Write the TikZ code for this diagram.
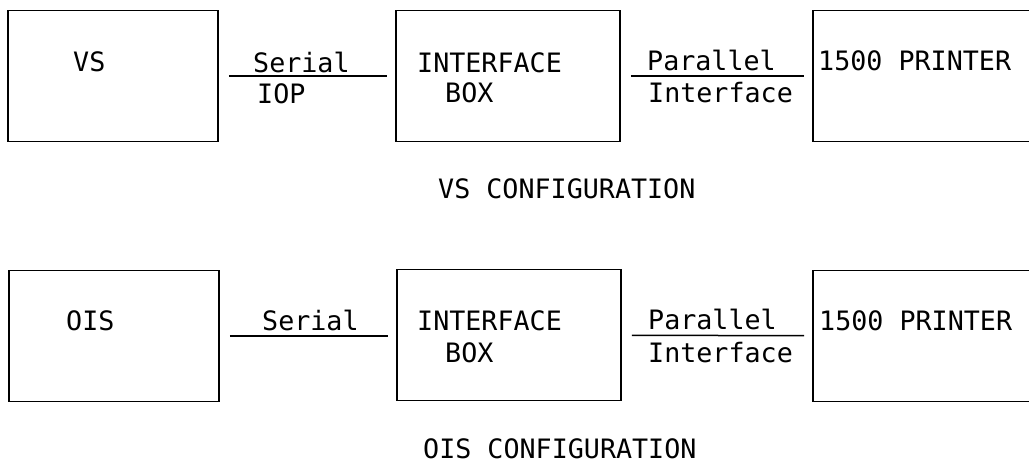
\documentclass[tikz,border=0pt]{standalone}
\usepackage{fontspec}
\setmonofont{DejaVu Sans Mono}
\begin{document}
\begin{tikzpicture}[x=1pt,y=-1pt,
    unit/.style={draw,line width=1.8pt,minimum width=#1,minimum height=131pt,inner sep=0pt},
    txt/.style={anchor=base west,inner sep=0pt,font=\ttfamily\fontsize{26.7}{30}\selectfont},
    wire/.style={line width=1.5pt,shorten <=10pt,shorten >=8pt}]

    %page:
    \clip (0,0) rectangle (1029,463);

    %VS row boxes:
    \node[unit=210pt] (vs) at (113,76) {};
    \node[unit=224pt] (vsif) at (508,76) {};
    \node[unit=232pt] (vsprn) at (929,76) {};
    \node[txt] at (73,71) {VS};
    \node[txt] at (417,72) {INTERFACE};
    \node[txt] at (445,102) {BOX};
    \node[txt] at (818,70) {1500 PRINTER};

    %VS row links:
    \draw[wire] (vs) -- (vsif);
    \draw[wire] (vsif) -- (vsprn);
    \node[txt] at (253,72) {Serial};
    \node[txt] at (257,103) {IOP};
    \node[txt] at (647,70) {Parallel};
    \node[txt] at (648,102) {Interface};

    \node[txt] at (438,198) {VS CONFIGURATION};

    %OIS row boxes:
    \node[unit=210pt] (ois) at (114,336) {};
    \node[unit=224pt] (oisif) at (509,335) {};
    \node[unit=232pt] (oisprn) at (929,336) {};
    \node[txt] at (66,330) {OIS};
    \node[txt] at (417,330) {INTERFACE};
    \node[txt] at (445,362) {BOX};
    \node[txt] at (819,330) {1500 PRINTER};

    %OIS row links:
    \draw[wire] (ois) -- (ois -| oisif.west);
    \draw[wire] (oisif) -- (oisprn);
    \node[txt] at (262,330) {Serial};
    \node[txt] at (648,329) {Parallel};
    \node[txt] at (648,362) {Interface};

    \node[txt] at (423,458) {OIS CONFIGURATION};

\end{tikzpicture}
\end{document}
